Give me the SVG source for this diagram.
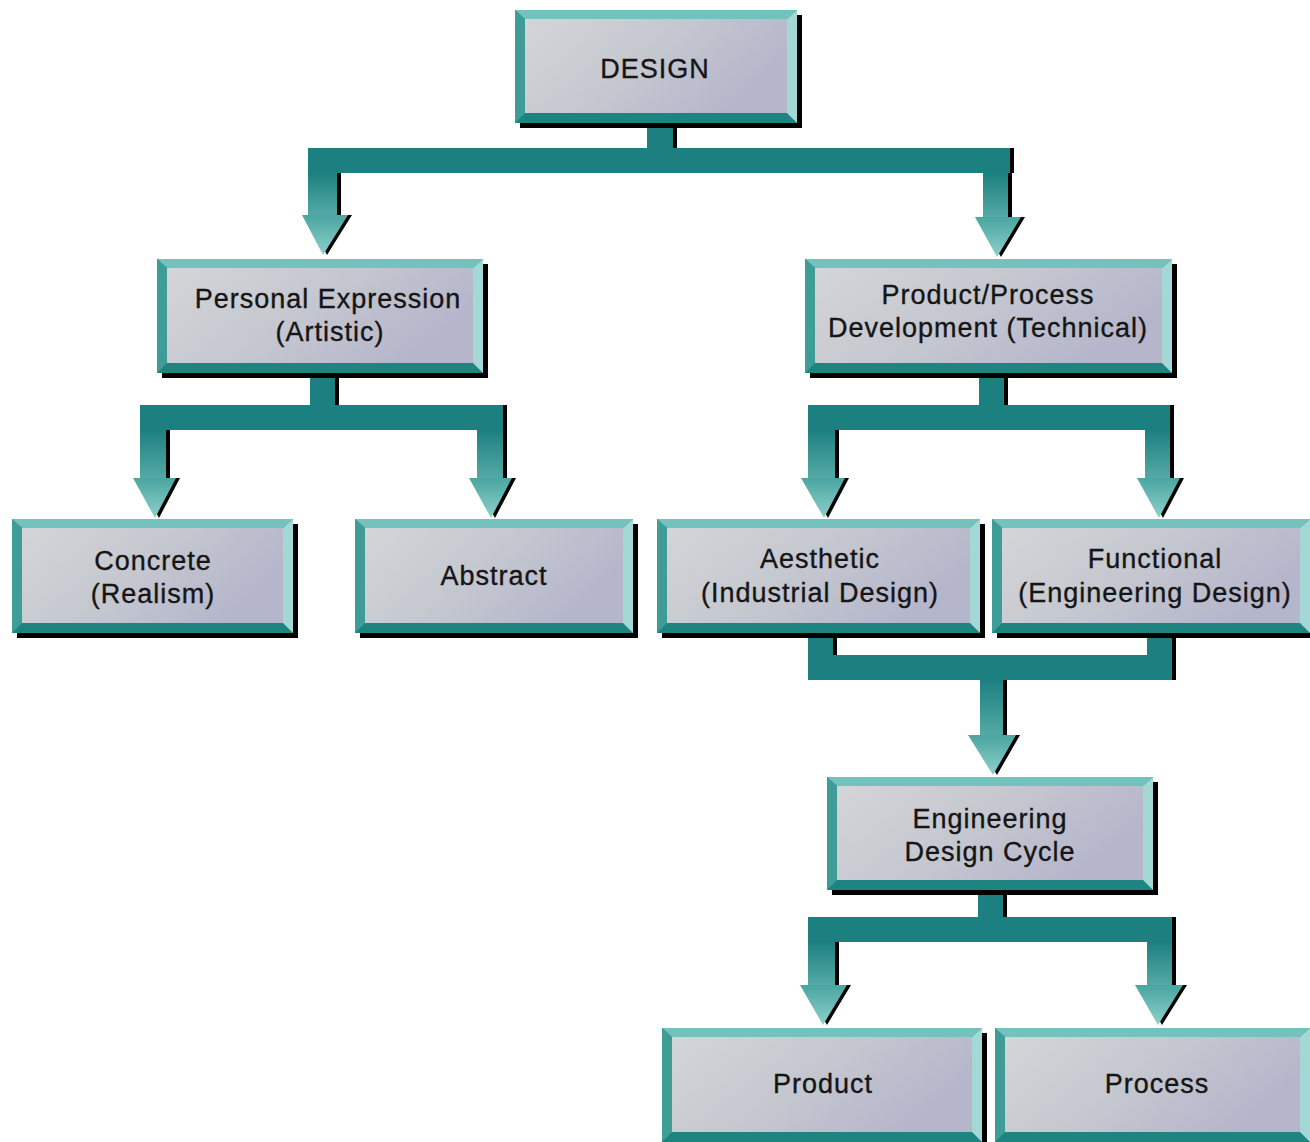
<svg xmlns="http://www.w3.org/2000/svg" width="1310" height="1142" viewBox="0 0 1310 1142">
  <defs>
    <linearGradient id="face" x1="0" y1="0" x2="1" y2="0.4">
      <stop offset="0" stop-color="#d3d5d8"/>
      <stop offset="0.5" stop-color="#c6c8d0"/>
      <stop offset="1" stop-color="#b5b6cb"/>
    </linearGradient>
    <linearGradient id="shaft" x1="0" y1="0" x2="0" y2="1">
      <stop offset="0" stop-color="#1d8080"/>
      <stop offset="1" stop-color="#53aaa5"/>
    </linearGradient>
    <linearGradient id="head" x1="0" y1="0" x2="0" y2="1">
      <stop offset="0" stop-color="#4aa5a0"/>
      <stop offset="1" stop-color="#8dd0cb"/>
    </linearGradient>
    <style>
      .shadow { fill: #000; }
      .btop { fill: #74c2be; }
      .bleft { fill: #3f9d98; }
      .bbot { fill: #1e8480; }
      .bright { fill: #a3d8d4; }
      .face { fill: url(#face); }
      .bar { fill: #1d8080; }
      .shaft { fill: url(#shaft); }
      .head { fill: url(#head); }
      .csh { fill: #000; }
      text { font-family: "Liberation Sans", Arial, sans-serif; font-size: 27px; fill: #151515; stroke: #151515; stroke-width: 0.35px; text-anchor: middle; letter-spacing: 1px; }
    </style>
  </defs>

  <g id="connectors">
    <!-- shadows -->
    <g transform="translate(4,0)" class="csh">
      <rect x="647" y="123" width="26" height="27"/>
      <rect x="308" y="148" width="702" height="25"/>
      <rect x="308" y="173" width="29" height="42"/>
      <polygon points="302,215 348,215 323,255"/>
      <rect x="983" y="173" width="25" height="44"/>
      <polygon points="975,217 1021,217 997,257"/>

      <rect x="310" y="373" width="25" height="32"/>
      <rect x="140" y="405" width="363" height="25"/>
      <rect x="140" y="430" width="26" height="48"/>
      <polygon points="133,478 176,478 155,518"/>
      <rect x="477" y="430" width="26" height="48"/>
      <polygon points="469,478 512,478 491,518"/>

      <rect x="979" y="373" width="25" height="32"/>
      <rect x="808" y="405" width="362" height="25"/>
      <rect x="808" y="430" width="27" height="48"/>
      <polygon points="801,478 845,478 824,518"/>
      <rect x="1145" y="430" width="25" height="48"/>
      <polygon points="1137,478 1180,478 1159,518"/>

      <rect x="808" y="633" width="25" height="22"/>
      <rect x="1147" y="633" width="25" height="22"/>
      <rect x="808" y="655" width="364" height="25"/>
      <rect x="980" y="680" width="23" height="55"/>
      <polygon points="968,735 1016,735 993,775"/>

      <rect x="978" y="890" width="25" height="27"/>
      <rect x="808" y="917" width="364" height="25"/>
      <rect x="808" y="942" width="27" height="43"/>
      <polygon points="800,985 847,985 823,1025"/>
      <rect x="1147" y="942" width="25" height="43"/>
      <polygon points="1135,985 1183,985 1158,1025"/>
    </g>
    <!-- DESIGN to level 2 -->
    <rect class="bar" x="647" y="123" width="26" height="27"/>
    <rect class="bar" x="308" y="148" width="702" height="25"/>
    <rect class="shaft" x="308" y="173" width="29" height="42"/>
    <polygon class="head" points="302,215 348,215 323,255"/>
    <rect class="shaft" x="983" y="173" width="25" height="44"/>
    <polygon class="head" points="975,217 1021,217 997,257"/>
    <!-- Personal to Concrete / Abstract -->
    <rect class="bar" x="310" y="373" width="25" height="32"/>
    <rect class="bar" x="140" y="405" width="363" height="25"/>
    <rect class="shaft" x="140" y="430" width="26" height="48"/>
    <polygon class="head" points="133,478 176,478 155,518"/>
    <rect class="shaft" x="477" y="430" width="26" height="48"/>
    <polygon class="head" points="469,478 512,478 491,518"/>
    <!-- Product/Process to Aesthetic / Functional -->
    <rect class="bar" x="979" y="373" width="25" height="32"/>
    <rect class="bar" x="808" y="405" width="362" height="25"/>
    <rect class="shaft" x="808" y="430" width="27" height="48"/>
    <polygon class="head" points="801,478 845,478 824,518"/>
    <rect class="shaft" x="1145" y="430" width="25" height="48"/>
    <polygon class="head" points="1137,478 1180,478 1159,518"/>
    <!-- Aesthetic + Functional to Engineering -->
    <rect class="bar" x="808" y="633" width="25" height="22"/>
    <rect class="bar" x="1147" y="633" width="25" height="22"/>
    <rect class="bar" x="808" y="655" width="364" height="25"/>
    <rect class="shaft" x="980" y="680" width="23" height="55"/>
    <polygon class="head" points="968,735 1016,735 993,775"/>
    <!-- Engineering to Product / Process -->
    <rect class="bar" x="978" y="890" width="25" height="27"/>
    <rect class="bar" x="808" y="917" width="364" height="25"/>
    <rect class="shaft" x="808" y="942" width="27" height="43"/>
    <polygon class="head" points="800,985 847,985 823,1025"/>
    <rect class="shaft" x="1147" y="942" width="25" height="43"/>
    <polygon class="head" points="1135,985 1183,985 1158,1025"/>
  </g>

  <g id="node-design">
    <rect class="shadow" x="520" y="15" width="282" height="113"/>
    <rect class="bbot" x="515" y="10" width="282" height="113"/>
    <polygon class="btop" points="515,10 797,10 787,19 525,19"/>
    <polygon class="bleft" points="515,10 525,19 525,113 515,123"/>
    <polygon class="bright" points="797,10 797,123 787,113 787,19"/>
    <rect class="face" x="525" y="19" width="262" height="94"/>
    <text x="655" y="78">DESIGN</text>
  </g>

  <g id="node-personal">
    <rect class="shadow" x="162" y="264" width="326" height="114"/>
    <rect class="bbot" x="157" y="259" width="326" height="114"/>
    <polygon class="btop" points="157,259 483,259 473,268 167,268"/>
    <polygon class="bleft" points="157,259 167,268 167,363 157,373"/>
    <polygon class="bright" points="483,259 483,373 473,363 473,268"/>
    <rect class="face" x="167" y="268" width="306" height="95"/>
    <text x="328" y="308">Personal Expression</text>
    <text x="330" y="341">(Artistic)</text>
  </g>

  <g id="node-product-process">
    <rect class="shadow" x="810" y="264" width="367" height="114"/>
    <rect class="bbot" x="805" y="259" width="367" height="114"/>
    <polygon class="btop" points="805,259 1172,259 1162,268 815,268"/>
    <polygon class="bleft" points="805,259 815,268 815,363 805,373"/>
    <polygon class="bright" points="1172,259 1172,373 1162,363 1162,268"/>
    <rect class="face" x="815" y="268" width="347" height="95"/>
    <text x="988" y="304">Product/Process</text>
    <text x="988" y="337">Development (Technical)</text>
  </g>

  <g id="node-concrete">
    <rect class="shadow" x="17" y="524" width="281" height="114"/>
    <rect class="bbot" x="12" y="519" width="281" height="114"/>
    <polygon class="btop" points="12,519 293,519 283,528 22,528"/>
    <polygon class="bleft" points="12,519 22,528 22,623 12,633"/>
    <polygon class="bright" points="293,519 293,633 283,623 283,528"/>
    <rect class="face" x="22" y="528" width="261" height="95"/>
    <text x="153" y="570">Concrete</text>
    <text x="153" y="603">(Realism)</text>
  </g>

  <g id="node-abstract">
    <rect class="shadow" x="360" y="524" width="278" height="114"/>
    <rect class="bbot" x="355" y="519" width="278" height="114"/>
    <polygon class="btop" points="355,519 633,519 623,528 365,528"/>
    <polygon class="bleft" points="355,519 365,528 365,623 355,633"/>
    <polygon class="bright" points="633,519 633,633 623,623 623,528"/>
    <rect class="face" x="365" y="528" width="258" height="95"/>
    <text x="494" y="585">Abstract</text>
  </g>

  <g id="node-aesthetic">
    <rect class="shadow" x="662" y="524" width="323" height="114"/>
    <rect class="bbot" x="657" y="519" width="323" height="114"/>
    <polygon class="btop" points="657,519 980,519 970,528 667,528"/>
    <polygon class="bleft" points="657,519 667,528 667,623 657,633"/>
    <polygon class="bright" points="980,519 980,633 970,623 970,528"/>
    <rect class="face" x="667" y="528" width="303" height="95"/>
    <text x="820" y="568">Aesthetic</text>
    <text x="820" y="602">(Industrial Design)</text>
  </g>

  <g id="node-functional">
    <rect class="shadow" x="997" y="524" width="318" height="114"/>
    <rect class="bbot" x="992" y="519" width="318" height="114"/>
    <polygon class="btop" points="992,519 1310,519 1300,528 1002,528"/>
    <polygon class="bleft" points="992,519 1002,528 1002,623 992,633"/>
    <polygon class="bright" points="1310,519 1310,633 1300,623 1300,528"/>
    <rect class="face" x="1002" y="528" width="298" height="95"/>
    <text x="1155" y="568">Functional</text>
    <text x="1155" y="602">(Engineering Design)</text>
  </g>

  <g id="node-engineering">
    <rect class="shadow" x="832" y="782" width="326" height="113"/>
    <rect class="bbot" x="827" y="777" width="326" height="113"/>
    <polygon class="btop" points="827,777 1153,777 1143,786 837,786"/>
    <polygon class="bleft" points="827,777 837,786 837,880 827,890"/>
    <polygon class="bright" points="1153,777 1153,890 1143,880 1143,786"/>
    <rect class="face" x="837" y="786" width="306" height="94"/>
    <text x="990" y="828">Engineering</text>
    <text x="990" y="861">Design Cycle</text>
  </g>

  <g id="node-product">
    <rect class="shadow" x="667" y="1033" width="320" height="114"/>
    <rect class="bbot" x="662" y="1028" width="320" height="114"/>
    <polygon class="btop" points="662,1028 982,1028 972,1037 672,1037"/>
    <polygon class="bleft" points="662,1028 672,1037 672,1132 662,1142"/>
    <polygon class="bright" points="982,1028 982,1142 972,1132 972,1037"/>
    <rect class="face" x="672" y="1037" width="300" height="95"/>
    <text x="823" y="1093">Product</text>
  </g>

  <g id="node-process">
    <rect class="shadow" x="1000" y="1033" width="315" height="114"/>
    <rect class="bbot" x="995" y="1028" width="315" height="114"/>
    <polygon class="btop" points="995,1028 1310,1028 1300,1037 1005,1037"/>
    <polygon class="bleft" points="995,1028 1005,1037 1005,1132 995,1142"/>
    <polygon class="bright" points="1310,1028 1310,1142 1300,1132 1300,1037"/>
    <rect class="face" x="1005" y="1037" width="295" height="95"/>
    <text x="1157" y="1093">Process</text>
  </g>
</svg>
